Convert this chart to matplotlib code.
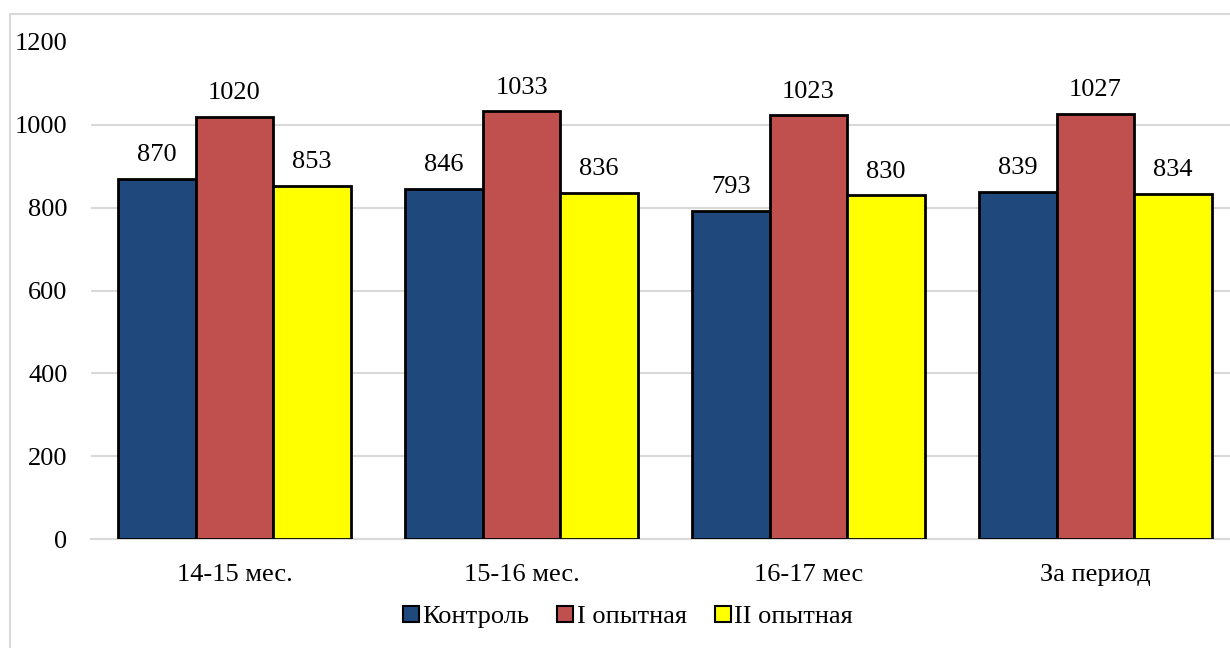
import matplotlib.pyplot as plt
from matplotlib.lines import Line2D
import numpy as np

# Periods and group values
periods = ['14-15 мес.', '15-16 мес.', '16-17 мес', 'За период']
control = [870, 846, 793, 839]
group_1 = [1020, 1033, 1023, 1027]
group_2 = [853, 836, 830, 834]
series_names = ['Контроль', 'I опытная', 'II опытная']
colors = ['#1F497D', '#C0504D', '#FFFF00']

plt.rcParams['font.family'] = ['Liberation Serif', 'DejaVu Serif']
fs = 19

W, H = 1230, 648
fig = plt.figure(figsize=(W / 100, H / 100), dpi=100)

# light frame around the chart area
fig.add_artist(Line2D([10 / W, 10 / W], [0, 1 - 14 / H], color='#d9d9d9', lw=1.5))
fig.add_artist(Line2D([10 / W, 1], [1 - 14 / H, 1 - 14 / H], color='#d9d9d9', lw=1.5))

ax = fig.add_axes([91 / W, 109 / H, 1 - 91 / W, 497 / H])

x = np.arange(len(periods))
width = 0.27
for i, (vals, name, c) in enumerate(zip([control, group_1, group_2], series_names, colors)):
    bars = ax.bar(x + (i - 1) * width, vals, width, color=c, edgecolor='black',
                  linewidth=2, label=name, zorder=3)
    for b, v in zip(bars, vals):
        ax.annotate(str(v), (b.get_x() + b.get_width() / 2, v), xytext=(0, 9),
                    textcoords='offset points', ha='center', va='bottom', fontsize=fs)

ax.set_xlim(-0.5, -0.5 + (W - 91) / 287)
ax.set_ylim(0, 1200)
ax.set_yticks(range(0, 1201, 200))
ax.set_xticks(x)
ax.set_xticklabels(periods)
ax.tick_params(axis='both', length=0, labelsize=fs)
ax.tick_params(axis='y', pad=17)
ax.tick_params(axis='x', pad=18)
ax.yaxis.grid(True, color='#d9d9d9', lw=1.5, zorder=0)
ax.get_ygridlines()[-1].set_visible(False)
for s in ['top', 'right', 'left']:
    ax.spines[s].set_visible(False)
ax.spines['bottom'].set_color('#d9d9d9')
ax.spines['bottom'].set_linewidth(1.5)

handles = [plt.Rectangle((0, 0), 1, 1, facecolor=c, edgecolor='black', lw=1.5) for c in colors]
fig.legend(handles, series_names, loc='center', bbox_to_anchor=(628 / W, 1 - 617 / H),
           ncol=3, frameon=False, fontsize=fs, handlelength=0.6, handleheight=0.6,
           handletextpad=0.15, columnspacing=1.05)

fig.savefig('out.png', dpi=100)
